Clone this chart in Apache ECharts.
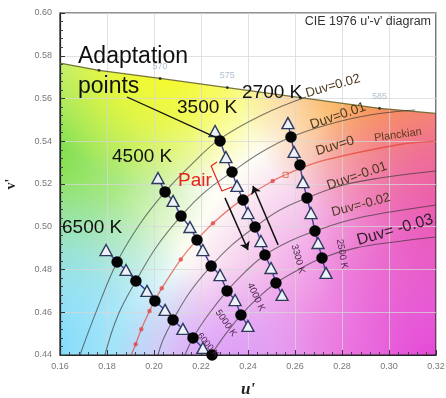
<!DOCTYPE html>
<html>
<head>
<meta charset="utf-8">
<script src="https://cdn.jsdelivr.net/npm/echarts@6/dist/echarts.min.js"></script>
<style>
html,body{margin:0;padding:0;background:#fff;}
#c{width:446px;height:398px;}
</style>
</head>
<body>
<div id="c"></div>
<script>
// ---------- data (u', v') ----------
const xTicks = [0.16, 0.18, 0.20, 0.22, 0.24, 0.26, 0.28, 0.30, 0.32];
const yTicks = [0.44, 0.46, 0.48, 0.50, 0.52, 0.54, 0.56, 0.58, 0.60];

const spectralLocus = [[0.1600,0.5766],[0.1766,0.5732],[0.2026,0.5694],[0.2312,0.5651],[0.2623,0.5604],[0.2960,0.5554],[0.3200,0.5530]];
const spectralDots = [[0.1766,0.5732],[0.2026,0.5694],[0.2312,0.5651],[0.2623,0.5604],[0.2960,0.5554]];
const spectralNames = ['565','570','575','580','585'];

const planckian = [[0.1903,0.4400],[0.1922,0.4450],[0.1946,0.4521],[0.1981,0.4606],[0.2004,0.4656],[0.2033,0.4712],[0.2114,0.4847],[0.2173,0.4927],[0.2251,0.5016],[0.2357,0.5113],[0.2505,0.5214],[0.2625,0.5274],[0.2722,0.5311],[0.3051,0.5386],[0.3200,0.5401]];
const planckDots = [[0.1922,0.4450],[0.1946,0.4521],[0.1981,0.4606],[0.2033,0.4712],[0.2114,0.4847],[0.2251,0.5016],[0.2505,0.5214]];
const illuminantA = [[0.2560,0.5243]];

const duvP02 = [[0.1685,0.4400],[0.1757,0.4611],[0.1843,0.4835],[0.1940,0.5013],[0.2047,0.5163],[0.2162,0.5294],[0.2281,0.5411],[0.2460,0.5523],[0.2647,0.5607]];
const duvP01 = [[0.1791,0.4400],[0.1847,0.4587],[0.1923,0.4746],[0.2013,0.4910],[0.2115,0.5050],[0.2217,0.5163],[0.2332,0.5256],[0.2451,0.5345],[0.2583,0.5420],[0.2749,0.5481],[0.2919,0.5523],[0.3111,0.5546]];
const duvM01 = [[0.2017,0.4400],[0.2038,0.4470],[0.2081,0.4564],[0.2153,0.4695],[0.2243,0.4816],[0.2332,0.4915],[0.2430,0.4999],[0.2536,0.5078],[0.2651,0.5135],[0.2791,0.5191],[0.2962,0.5228],[0.3200,0.5261]];
const duvM02 = [[0.2132,0.4400],[0.2166,0.4480],[0.2230,0.4587],[0.2311,0.4700],[0.2387,0.4788],[0.2472,0.4868],[0.2579,0.4933],[0.2685,0.4980],[0.2834,0.5032],[0.3004,0.5069],[0.3200,0.5102]];
const duvM03 = [[0.2243,0.4400],[0.2302,0.4494],[0.2370,0.4587],[0.2442,0.4667],[0.2519,0.4737],[0.2613,0.4798],[0.2715,0.4854],[0.2860,0.4901],[0.3025,0.4929],[0.3200,0.4952]];

// adaptation points (circles) and paired points (triangles), per CCT column
const circles6500 = [[0.1843,0.4835],[0.1923,0.4746],[0.2004,0.4653],[0.2081,0.4564],[0.2166,0.4480],[0.2247,0.4400]];
const triangles6500 = [[0.1796,0.4891],[0.1881,0.4798],[0.1970,0.4700],[0.2047,0.4611],[0.2123,0.4522],[0.2208,0.4433]];
const circles4500 = [[0.2047,0.5163],[0.2115,0.5050],[0.2183,0.4938],[0.2243,0.4816],[0.2311,0.4700],[0.2370,0.4587]];
const triangles4500 = [[0.2017,0.5228],[0.2081,0.5121],[0.2153,0.4999],[0.2208,0.4891],[0.2281,0.4774],[0.2345,0.4657],[0.2400,0.4536]];
const circles3500 = [[0.2281,0.5401],[0.2332,0.5256],[0.2379,0.5125],[0.2430,0.4999],[0.2472,0.4868],[0.2519,0.4737]];
const triangles3500 = [[0.2260,0.5448],[0.2306,0.5326],[0.2353,0.5191],[0.2400,0.5064],[0.2455,0.4933],[0.2498,0.4807],[0.2545,0.4681]];
const circles2700 = [[0.2583,0.5420],[0.2621,0.5289],[0.2651,0.5135],[0.2685,0.4980],[0.2715,0.4854]];
const triangles2700 = [[0.2570,0.5485],[0.2596,0.5350],[0.2634,0.5209],[0.2668,0.5064],[0.2698,0.4924],[0.2732,0.4784]];

// annotation strokes
const pointerLine = [[0.1885,0.5607],[0.2277,0.5411]];
const pairBracket = [[0.2268,0.5303],[0.2243,0.5284],[0.2289,0.5167],[0.2332,0.5186]];
const arrowDown = [[0.2302,0.5135],[0.2400,0.4891]];
const arrowUp = [[0.2528,0.4915],[0.2421,0.5191]];

// ---------- chart ----------
const chart = echarts.init(document.getElementById('c'), null, {renderer:'canvas'});

function column(circles, triangles){
  const out = [];
  const n = Math.max(circles.length, triangles.length);
  for (let i = 0; i < n; i++) {
    if (triangles[i]) out.push({value: triangles[i], symbol:'triangle', symbolSize:[12,11],
      itemStyle:{color:'#eef2f8', borderColor:'#2c3a5c', borderWidth:1.4}});
    if (circles[i]) out.push({value: circles[i], symbol:'circle', symbolSize:11.5,
      itemStyle:{color:'#050505', borderColor:'#000', borderWidth:0}});
  }
  return out;
}
function colSeries(c, t){
  return {type:'line', data: column(c, t), clip:false, z:10, showSymbol:true,
    lineStyle:{color:'#3d3f9c', width:1.4}, emphasis:{disabled:true}};
}
function duvSeries(d){
  return {type:'line', data:d, smooth:0.4, showSymbol:false, z:4,
    lineStyle:{color:'rgba(45,45,45,0.62)', width:1.1}, emphasis:{disabled:true}};
}

const bgSeries = {
  type:'custom', z:-1, silent:true, data:[[0.24,0.5]],
  renderItem: function(params, api){
    const ring = [[0.16,0.44]].concat(spectralLocus).concat([[0.32,0.44]]);
    const pts = ring.map(p => api.coord(p));
    const P = (u,v) => api.coord([u,v]);
    const rad = (u,v,r,rgb,a0,mid) => {
      const c = P(u,v);
      return new echarts.graphic.RadialGradient(c[0], c[1], r, [
        {offset:0, color:'rgba('+rgb+','+a0+')'},
        {offset:mid, color:'rgba('+rgb+','+(a0*0.65)+')'},
        {offset:1, color:'rgba('+rgb+',0)'}], true);
    };
    const fills = [
      '#fdfdf6',
      rad(0.155,0.535,170,'125,222,70',1,0.45),
      rad(0.152,0.445,170,'125,218,250',1,0.5),
      rad(0.205,0.58,135,'245,250,25',1,0.5),
      rad(0.30,0.57,150,'250,155,45',1,0.45),
      rad(0.335,0.51,170,'240,90,115',1,0.42),
      rad(0.32,0.435,275,'228,70,215',1,0.45),
      rad(0.23,0.43,115,'215,150,250',0.95,0.4)
    ];
    return {type:'group', children: fills.map(f => ({type:'polygon', shape:{points:pts}, style:{fill:f}}))};
  }
};

const T = (text, x, y, size, color, rotDeg, align) => ({
  type:'text', x:x, y:y, rotation:(rotDeg||0)*Math.PI/180, z:200, silent:true,
  style:{text:text, font:size+'px "Liberation Sans", Arial, sans-serif', fill:color,
    textAlign:align||'center', textVerticalAlign:'middle', align:align||'center', verticalAlign:'middle'}
});

const option = {
  animation:false,
  grid:{left:60, right:10, top:13, bottom:43, containLabel:false, outerBoundsMode:'none',
    show:true, borderColor:'#222', borderWidth:1.2, backgroundColor:'transparent'},
  xAxis:{type:'value', min:xTicks[0], max:xTicks[xTicks.length-1], interval:0.02,
    name:"u'", nameLocation:'middle', nameGap:26,
    nameTextStyle:{fontFamily:'"Liberation Serif", serif', fontWeight:'bold', fontStyle:'italic', fontSize:17, color:'#222'},
    axisLine:{show:true, lineStyle:{color:'#222', width:1.2}},
    axisTick:{show:true, inside:true, length:5, lineStyle:{color:'#333'}},
    minorTick:{show:true, splitNumber:5, length:3, lineStyle:{color:'#444'}},
    axisLabel:{formatter: v => v.toFixed(2), color:'#777', fontSize:9, margin:7, fontFamily:'"Liberation Sans", Arial'},
    splitLine:{show:true, lineStyle:{color:'rgba(215,215,215,0.75)', width:1}}},
  yAxis:{type:'value', min:yTicks[0], max:yTicks[yTicks.length-1], interval:0.02,
    name:"v'", nameLocation:'middle', nameGap:42, nameRotate:90,
    nameTextStyle:{fontFamily:'"Liberation Serif", serif', fontWeight:'bold', fontSize:14, color:'#222'},
    axisLine:{show:true, lineStyle:{color:'#222', width:1.2}},
    axisTick:{show:true, inside:true, length:5, lineStyle:{color:'#333'}},
    minorTick:{show:true, splitNumber:5, length:3, lineStyle:{color:'#444'}},
    axisLabel:{formatter: v => v.toFixed(2), color:'#777', fontSize:9, margin:8, fontFamily:'"Liberation Sans", Arial'},
    splitLine:{show:true, lineStyle:{color:'rgba(215,215,215,0.75)', width:1}}},
  series:[
    bgSeries,
    {type:'line', data:spectralLocus, showSymbol:false, z:3, lineStyle:{color:'rgba(95,95,40,0.85)', width:1.3}},
    {type:'scatter', data:spectralDots.map((p,i)=>({value:p, name:spectralNames[i]})), symbolSize:3, z:3,
      itemStyle:{color:'#222'},
      label:{show:true, position:'top', distance:6, color:'#9fb0c4', fontSize:9,
        formatter: p => (p.name==='575'||p.name==='585'||p.name==='570') ? p.name : ''}},
    duvSeries(duvP02), duvSeries(duvP01), duvSeries(duvM01), duvSeries(duvM02), duvSeries(duvM03),
    {type:'line', data:planckian, smooth:0.3, showSymbol:false, z:5,
      lineStyle:{color:'rgba(228,60,45,0.65)', width:1.3}},
    {type:'scatter', data:planckDots, symbolSize:4.5, z:5, itemStyle:{color:'rgba(225,55,55,0.85)'}},
    {type:'scatter', data:illuminantA, symbol:'rect', symbolSize:5, z:5,
      itemStyle:{color:'rgba(255,255,255,0.2)', borderColor:'rgba(210,80,40,0.9)', borderWidth:1}},
    colSeries(circles6500, triangles6500),
    colSeries(circles4500, triangles4500),
    colSeries(circles3500, triangles3500),
    colSeries(circles2700, triangles2700),
    {type:'line', data:pointerLine, showSymbol:false, z:12, lineStyle:{color:'#111', width:1.3}},
    {type:'line', data:pairBracket, showSymbol:false, z:12, lineStyle:{color:'#e5261f', width:1.2}},
    {type:'lines', coordinateSystem:'cartesian2d', z:12, symbol:['none','arrow'], symbolSize:8,
      lineStyle:{color:'#111', width:1.5, opacity:1},
      data:[{coords:arrowDown},{coords:arrowUp}]}
  ],
  graphic:[
    T('CIE 1976 u\'-v\' diagram', 431, 22, 12.5, '#333', 0, 'right'),
    T('Adaptation', 78, 57, 23, '#111', 0, 'left'),
    T('points', 78, 87, 23, '#111', 0, 'left'),
    T('3500 K', 177, 108, 19, '#111', 0, 'left'),
    T('2700 K', 242, 93, 19, '#111', 0, 'left'),
    T('4500 K', 112, 157, 19, '#111', 0, 'left'),
    T('6500 K', 62, 228, 19, '#111', 0, 'left'),
    T('Pair', 178, 181, 19, '#e8231f', 0, 'left'),
    T('Duv=0.02', 333, 86, 13, '#4d3a1f', 16),
    T('Duv=0.01', 338, 116, 13.5, '#4d3a1f', 19),
    T('Duv=0', 335, 146, 13.5, '#4d3a1f', 17),
    T('Planckian', 398, 135, 11, '#5a3a1a', 8),
    T('Duv=-0.01', 357, 176, 13.5, '#4d3a1f', 19),
    T('Duv=-0.02', 361, 205, 13, '#4d3a1f', 15),
    T('Duv= -0.03', 395, 230, 16, '#2e1f2a', 16),
    T('2500 K', 342, 254, 9.5, '#4a1f4a', -80),
    T('3300 K', 298, 259, 9.5, '#4a1f4a', -75),
    T('4000 K', 256, 297, 9.5, '#4a1f4a', -65),
    T('5000 K', 226, 323, 9.5, '#4a1f4a', -55),
    T('6000 K', 208, 345, 9, '#4a1f4a', -50)
  ]
};
chart.setOption(option);
</script>
</body>
</html>
